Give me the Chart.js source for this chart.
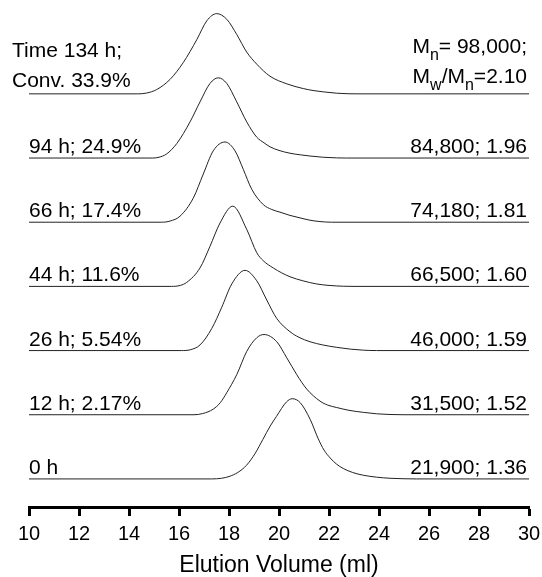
<!DOCTYPE html>
<html>
<head>
<meta charset="utf-8">
<script src="https://cdn.jsdelivr.net/npm/chart.js@4.4.1/dist/chart.umd.min.js"></script>
<style>
  html, body { margin: 0; padding: 0; background: #fff; }
</style>
</head>
<body>
<canvas id="myChart" width="542" height="577"></canvas>
<script>
// GPC traces, bottom (0 h) to top (134 h): [elution volume (ml), normalized signal (%)]
const trace0h = [[10, 0], [17.3, 0], [17.7, 0.8], [18.0, 3], [18.35, 8], [18.7, 17], [19.05, 32], [19.35, 49], [19.65, 66], [19.9, 78], [20.3, 96], [20.53, 100], [20.85, 95], [21.25, 74], [21.57, 50], [21.8, 36], [22.05, 26], [22.3, 18.5], [22.57, 13], [22.95, 8], [23.37, 4.6], [23.9, 2.2], [24.44, 0.8], [25.0, 0.2], [25.5, 0], [30, 0]];
const trace12h = [[10, 0], [16.6, 0], [16.95, 1.5], [17.37, 7], [17.65, 15], [17.91, 27.5], [18.31, 50], [18.71, 79], [19.11, 96], [19.4, 100], [19.91, 91], [20.31, 71], [20.71, 50], [21.11, 32], [21.64, 17], [21.95, 12], [22.31, 9], [22.8, 5.5], [23.37, 3], [23.9, 1.2], [24.44, 0.3], [25.0, 0], [30, 0]];
const trace26h = [[10, 0], [16.1, 0], [16.45, 1], [16.84, 7], [17.31, 27.5], [17.71, 54], [18.11, 83], [18.64, 100], [19.11, 87], [19.51, 63], [19.91, 40], [20.44, 23.5], [20.8, 16.5], [21.24, 11], [21.75, 7], [22.31, 4], [22.85, 1.8], [23.37, 0.5], [23.9, 0], [30, 0]];
const trace44h = [[10, 0], [15.7, 0], [16.05, 1.2], [16.31, 5], [16.84, 23], [17.24, 50], [17.64, 79], [18.15, 100], [18.71, 71], [19.11, 42], [19.37, 32], [19.77, 23], [20.1, 17], [20.44, 12], [20.95, 7], [21.51, 3], [22.0, 1.2], [22.57, 0.2], [23.0, 0], [30, 0]];
const trace66h = [[10, 0], [15.3, 0], [15.65, 1.5], [16.04, 7.5], [16.57, 30], [16.97, 60], [17.37, 89], [17.84, 100], [18.24, 89], [18.57, 66], [18.91, 41], [19.37, 22], [19.7, 16], [20.04, 12.5], [20.44, 8.5], [20.84, 5.4], [21.24, 2.5], [21.64, 0.8], [22.1, 0], [30, 0]];
const trace94h = [[10, 0], [14.95, 0], [15.2, 1], [15.5, 5], [15.91, 18], [16.44, 45], [16.84, 70], [17.24, 93], [17.57, 100], [17.91, 93], [18.31, 70], [18.71, 45], [19.11, 26], [19.4, 19], [19.64, 14], [20.0, 9.5], [20.44, 6], [20.85, 4], [21.24, 2.5], [21.75, 1], [22.3, 0.2], [22.7, 0], [30, 0]];
const trace134h = [[10, 0], [14.35, 0], [14.7, 1], [15.11, 5.4], [15.64, 18], [16.17, 39], [16.71, 67.5], [17.11, 91], [17.51, 100], [17.91, 93], [18.31, 74], [18.71, 52], [19.11, 37], [19.64, 22], [20.31, 12.5], [20.97, 6.6], [21.4, 4], [21.77, 2.5], [22.31, 0.8], [22.8, 0.1], [23.2, 0], [30, 0]];

const traces = [trace0h, trace12h, trace26h, trace44h, trace66h, trace94h, trace134h];
const leftLabels = ["0 h", "12 h; 2.17%", "26 h; 5.54%", "44 h; 11.6%", "66 h; 17.4%", "94 h; 24.9%", ["Time 134 h;", "Conv. 33.9%"]];
const rightLabels = ["21,900; 1.36", "31,500; 1.52", "46,000; 1.59", "66,500; 1.60", "74,180; 1.81", "84,800; 1.96", null];
// [text, isSubscript]
const topRight = [
    [["M", 0], ["n", 1], ["= 98,000;", 0]],
    [["M", 0], ["w", 1], ["/M", 0], ["n", 1], ["=2.10", 0]],
];
const offsetStep = 80;

const FONT = "'Liberation Sans', Arial, Helvetica, sans-serif";

function drawRich(ctx, parts, right, y) {
    const fonts = ["21px " + FONT, "16px " + FONT];
    let total = 0;
    parts.forEach(([t, sub]) => { ctx.font = fonts[sub]; total += ctx.measureText(t).width; });
    let x = right - total;
    ctx.textAlign = "left";
    parts.forEach(([t, sub]) => {
        ctx.font = fonts[sub];
        ctx.fillText(t, x, sub ? y + 7 : y);
        x += ctx.measureText(t).width;
    });
}

const labelPlugin = {
    id: "traceLabels",
    afterDatasetsDraw(chart) {
        const { ctx, chartArea, scales: { y } } = chart;
        const right = chartArea.right - 2;
        ctx.save();
        ctx.fillStyle = "#000";
        ctx.textBaseline = "alphabetic";
        traces.forEach((t, i) => {
            const base = y.getPixelForValue(i * offsetStep);
            ctx.font = "21px " + FONT;
            const left = leftLabels[i];
            ctx.textAlign = "left";
            if (Array.isArray(left)) {
                ctx.fillText(left[0], 12, base - 37);
                ctx.fillText(left[1], 12, base - 7);
            } else {
                ctx.fillText(left, chartArea.left, base - 5);
            }
            if (rightLabels[i]) {
                ctx.textAlign = "right";
                ctx.fillText(rightLabels[i], right, base - 5);
            }
        });
        const topBase = y.getPixelForValue((traces.length - 1) * offsetStep);
        drawRich(ctx, topRight[0], right, topBase - 41);
        drawRich(ctx, topRight[1], right, topBase - 11);
        ctx.restore();
    }
};

const ctx = document.getElementById("myChart").getContext("2d");

const myChart = new Chart(ctx, {
    type: "line",
    data: {
        datasets: traces.map((t, i) => ({
            data: t.map(p => ({ x: p[0], y: p[1] + i * offsetStep })),
            borderColor: "#222",
            borderWidth: 1,
            pointRadius: 0,
            cubicInterpolationMode: "monotone",
            fill: false,
        })),
    },
    options: {
        responsive: false,
        animation: false,
        devicePixelRatio: 1,
        layout: { padding: { left: 29, right: 13, top: 0, bottom: 0 } },
        scales: {
            x: {
                type: "linear",
                min: 10,
                max: 30,
                afterFit(scale) {
                    scale.height = 70;
                    scale.paddingLeft = 0;
                    scale.paddingRight = 0;
                },
                ticks: {
                    stepSize: 2,
                    autoSkip: false,
                    maxRotation: 0,
                    color: "#000",
                    padding: 6,
                    font: { family: FONT, size: 20 },
                },
                grid: {
                    drawOnChartArea: false,
                    drawTicks: true,
                    tickLength: 9,
                    tickWidth: 3,
                    tickColor: "#000",
                },
                border: { display: true, color: "#000", width: 3 },
                title: {
                    display: true,
                    text: "Elution Volume (ml)",
                    color: "#000",
                    font: { family: FONT, size: 23, lineHeight: 1 },
                    padding: { top: 0, bottom: 0 },
                },
            },
            y: {
                display: false,
                min: -35,
                max: 597,
            },
        },
        plugins: {
            legend: { display: false },
            tooltip: { enabled: false },
        },
    },
    plugins: [labelPlugin],
});
</script>
</body>
</html>
